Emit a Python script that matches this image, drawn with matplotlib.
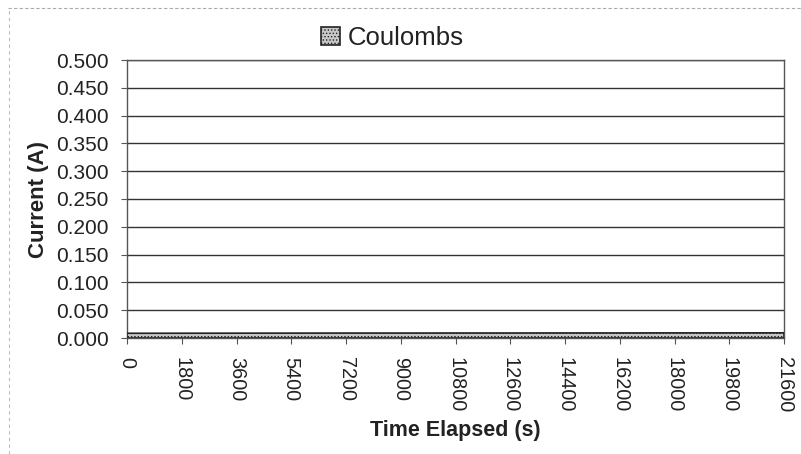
import numpy as np
import matplotlib.pyplot as plt
from matplotlib.lines import Line2D

plt.rcParams['font.family'] = ['Liberation Sans', 'DejaVu Sans']
plt.rcParams['hatch.color'] = '#555555'
plt.rcParams['hatch.linewidth'] = 0.6

# time points (s) and measured current (A)
time_s = [0, 1800, 3600, 5400, 7200, 9000, 10800, 12600, 14400, 16200, 18000, 19800, 21600]
current_a = [0.0085, 0.0086, 0.0087, 0.0088, 0.0089, 0.0089, 0.0090, 0.0090, 0.0091, 0.0091, 0.0092, 0.0092, 0.0093]
y_ticks = [0.0, 0.05, 0.10, 0.15, 0.20, 0.25, 0.30, 0.35, 0.40, 0.45, 0.50]

fig = plt.figure(figsize=(8.01, 4.54), dpi=100)
ax = fig.add_axes([127/801, 1 - 338/454, (784 - 127)/801, (338 - 60)/454])

ax.fill_between(time_s, current_a, 0, facecolor='#c8c8c8', edgecolor='#222222',
                hatch='.....', linewidth=1.2, label='Coulombs', zorder=3)

ax.set_xlim(0, 21600)
ax.set_ylim(0, 0.5)
ax.set_yticks(y_ticks)
ax.set_yticklabels([f'{v:.3f}' for v in y_ticks], fontsize=15, color='#222222')
ax.set_xticks(time_s)
ax.set_xticklabels([str(t) for t in time_s], rotation=-90, fontsize=14.3, color='#222222')
ax.yaxis.grid(True, color='#333333', linewidth=1.0)
ax.set_axisbelow(True)
ax.tick_params(axis='both', direction='out', length=4, color='#555555', width=0.8)
ax.tick_params(axis='x', pad=9.5)
ax.tick_params(axis='y', pad=9.4)
for s in ax.spines.values():
    s.set_color('#555555')
    s.set_linewidth(1.0)

ax.set_xlabel('Time Elapsed (s)', fontsize=15.5, fontweight='bold', labelpad=6, color='#222222')
ax.set_ylabel('Current (A)', fontsize=16, fontweight='semibold', labelpad=5, color='#222222')

fig.legend(loc='center', bbox_to_anchor=(0.49, 1 - 38/454), frameon=False,
           fontsize=18.5, handlelength=0.75, handleheight=0.75, handletextpad=0.3,
           labelcolor='#222222')

# dashed chart border along the top and left edges
fig.add_artist(Line2D([8/801, 1], [1 - 8/454, 1 - 8/454], transform=fig.transFigure,
                      color='#aaaaaa', linewidth=0.8, linestyle=(0, (3, 2))))
fig.add_artist(Line2D([9/801, 9/801], [0, 1 - 8/454], transform=fig.transFigure,
                      color='#bbbbbb', linewidth=0.8, linestyle=(0, (3, 3))))

fig.savefig('out.png', dpi=100)
